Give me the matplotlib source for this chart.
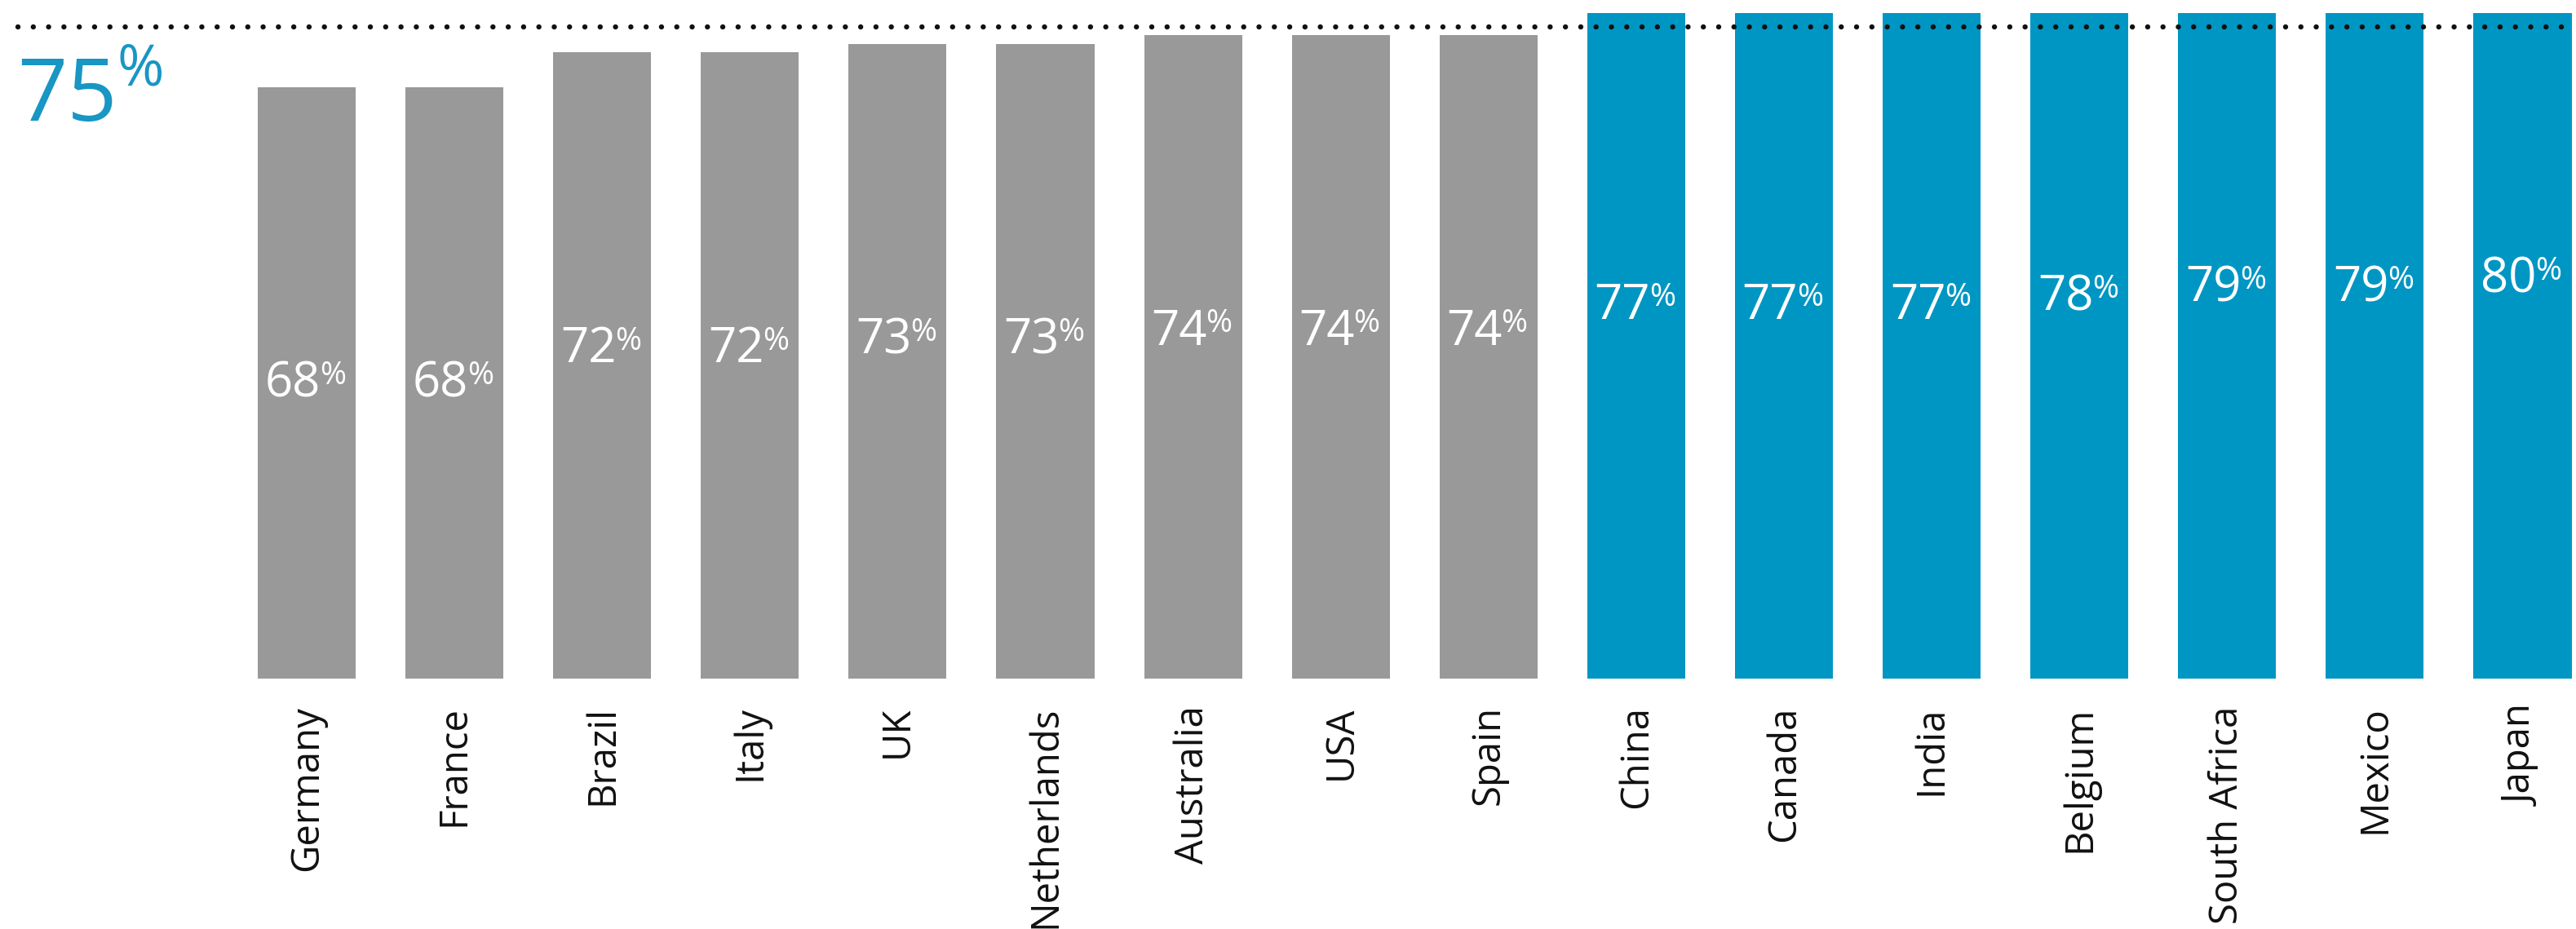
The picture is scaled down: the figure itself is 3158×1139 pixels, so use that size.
import numpy as np
import matplotlib
matplotlib.use("Agg")
import matplotlib.pyplot as plt

plt.rcParams['font.family'] = ['Open Sans', 'DejaVu Sans']

# share of respondents per country (%)
countries = ["Germany", "France", "Brazil", "Italy", "UK", "Netherlands",
             "Australia", "USA", "Spain", "China", "Canada", "India",
             "Belgium", "South Africa", "Mexico", "Japan"]
values = [68, 68, 72, 72, 73, 73, 74, 74, 74, 77, 77, 77, 78, 79, 79, 80]
average = 75

GREY = "#999999"
BLUE = "#0096c3"
TEXT_BLUE = "#1896c4"

W, H = 3158, 1139
fig = plt.figure(figsize=(W / 100, H / 100), dpi=100)

# axes in pixel terms: baseline at y=832, top clip at y=16
base_px, top_px = 832, 16
px_per_unit = 10.66
ax = fig.add_axes([0, (H - base_px) / H, 1, (base_px - top_px) / H])
ax.set_ylim(0, (base_px - top_px) / px_per_unit)

first_px, step_px = 376, 181.1
ax.set_xlim(-first_px / step_px, (W - first_px) / step_px)

x = np.arange(len(countries))
colors = [BLUE if v > average else GREY for v in values]
ax.bar(x, values, width=0.663, color=colors, zorder=2)

# dotted average line across the chart
ax.axhline(average, xmin=22 / W, xmax=1, color="#111111", lw=4.6,
           linestyle=(0, (0.01, 2.93)), dash_capstyle="round", zorder=4,
           clip_on=False)

# big average label on the left
x0 = (21 - first_px) / step_px
y0 = (base_px - 148) / px_per_unit
ax.text(x0, y0, str(average), color=TEXT_BLUE, fontsize=77,
        ha="left", va="baseline", clip_on=False)
ax.annotate("%", xy=(x0, y0), xytext=(88, 31), textcoords="offset points",
            color=TEXT_BLUE, fontsize=50, ha="left", va="baseline",
            annotation_clip=False)

# value labels inside the bars
for xi, v in zip(x, values):
    lx = xi + 0.095
    ly = v - 35.6
    ax.text(lx, ly, str(v), color="white", fontsize=43,
            ha="right", va="baseline", zorder=5)
    ax.annotate("%", xy=(lx, ly), xytext=(-1, 11), textcoords="offset points",
                color="white", fontsize=28, ha="left", va="baseline", zorder=5)

ax.set_xticks(x)
ax.set_xticklabels(countries, rotation=90, fontsize=34, color="#111111")
ax.tick_params(axis="x", length=0, pad=24)
ax.set_yticks([])
for s in ax.spines.values():
    s.set_visible(False)

fig.savefig("out.png", dpi=100, facecolor="white")
